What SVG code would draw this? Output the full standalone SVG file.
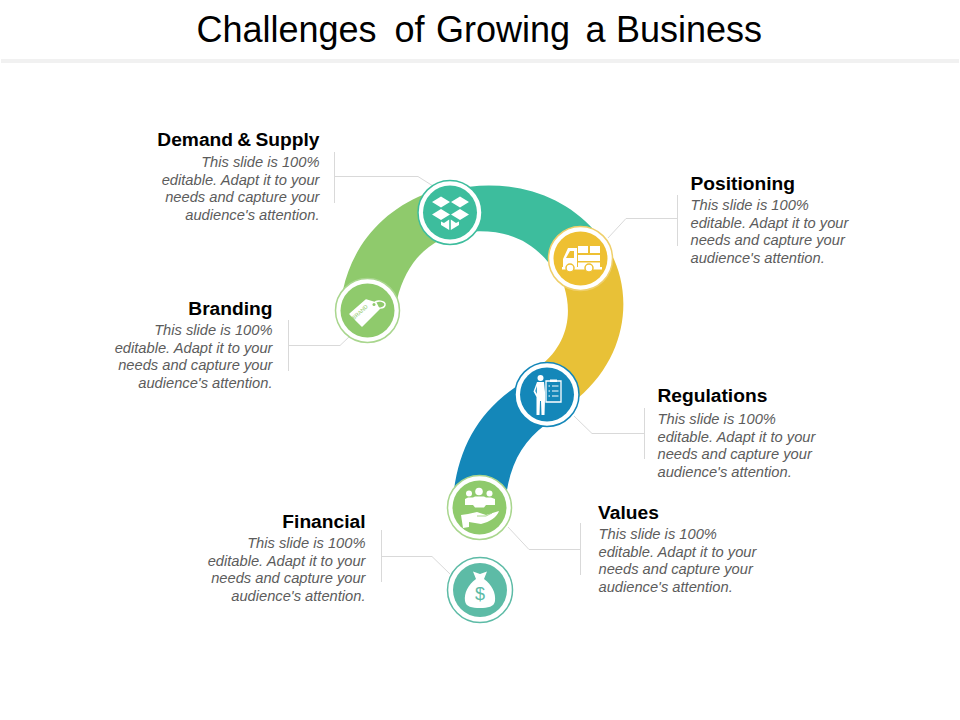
<svg xmlns="http://www.w3.org/2000/svg" width="960" height="720" viewBox="0 0 960 720">
<style>
text{font-family:"Liberation Sans",Arial,sans-serif}
.title{font-size:36px;fill:#000}
.h{font-size:19.2px;font-weight:bold;fill:#000}
.b{font-size:14.7px;font-style:italic;fill:#5c5c5c}
.r{text-anchor:end}
.c{fill:none;stroke:#d9d9d9;stroke-width:1}
.w{fill:#fff}
.ring{fill:#fff;stroke-width:1.5}
</style>
<rect width="960" height="720" fill="#fff"/>
<rect x="1" y="59" width="958" height="4" fill="#f1f1f1"/>
<text class="title" y="42"><tspan x="196.500">Challenges</tspan> <tspan x="394.500">of</tspan> <tspan x="436">Growing</tspan> <tspan x="585.500">a</tspan> <tspan x="616">Business</tspan></text>
<g id="connectors">
<path class="c" d="M334.500 152V203M334.500 176.500H418L433 186"/>
<path class="c" d="M677.500 195V246M677.500 218.500H626L608 238"/>
<path class="c" d="M288.500 320V371M288.500 345.500H340L350 336"/>
<path class="c" d="M644.500 408V459M644.500 433.500H592L574 416"/>
<path class="c" d="M580.500 523V575M580.500 549.500H529L508 527"/>
<path class="c" d="M381.500 530V582M381.500 556.500H432L450 574"/>
</g>
<g id="band">
<path fill="#8fca6c" d="M343 290C352 248 380 212 425 194L440 240C420 250 404 270 397 300Z"/>
<path fill="#3dbd9d" d="M450 190C505 177 560 192 594 230L548 262C530 240 505 228 465 232Z"/>
<path fill="#e8c137" d="M606 245C633 285 632 352 578 398L540 366C573 340 576 300 553 262Z"/>
<path fill="#1487b9" d="M520 384C480 410 460 445 454 490L507 490C512 460 525 440 545 425Z"/>
</g>
<g id="node-demand">
<circle class="ring" cx="450" cy="212.500" r="32" stroke="#3dbd9d"/>
<circle cx="450" cy="212.500" r="27" fill="#3dbd9d"/>
<path class="w" d="M450 202L441 196.500L432 202L441 207.500ZM469 202L460 196.500L451 202L460 207.500ZM450 214.500L441 209L432 214.500L441 220ZM469 214.500L460 209L451 214.500L460 220ZM449.200 219.500V230L441 225V221.500L444 223ZM450.800 219.500V230L459 225V221.500L456 223Z"/>
<text class="h r" x="319.500" y="146" word-spacing="-1">Demand &amp; Supply</text>
<text class="b r" x="319.500" y="167">This slide is 100%</text>
<text class="b r" x="319.500" y="185">editable. Adapt it to your</text>
<text class="b r" x="319.500" y="202">needs and capture your</text>
<text class="b r" x="319.500" y="220">audience's attention.</text>
</g>
<g id="node-positioning">
<circle class="ring" cx="580.500" cy="258.500" r="32" stroke="#efcf6a"/>
<circle cx="580.500" cy="258.500" r="27" fill="#eec032"/>
<path class="w" d="M578 246H588V253H578ZM590 246H600V253H590ZM578 255H600V261H578ZM578 262.500H600V268H578Z"/>
<path class="w" d="M577 248V268H563V259L568 248ZM570 251L566 258H574V251Z" fill-rule="evenodd"/>
<rect class="w" x="562" y="267" width="40" height="2.500"/>
<circle cx="570" cy="268" r="4" fill="#fff" stroke="#eec032" stroke-width="1.500"/>
<circle cx="589" cy="268" r="4" fill="#fff" stroke="#eec032" stroke-width="1.500"/>
<text class="h" x="690.500" y="190">Positioning</text>
<text class="b" x="690.500" y="210">This slide is 100%</text>
<text class="b" x="690.500" y="228">editable. Adapt it to your</text>
<text class="b" x="690.500" y="245">needs and capture your</text>
<text class="b" x="690.500" y="263">audience's attention.</text>
</g>
<g id="node-branding">
<circle class="ring" cx="367.500" cy="310.500" r="32" stroke="#a9d68e"/>
<circle cx="367.500" cy="310.500" r="27" fill="#8fca6c"/>
<path class="w" stroke="#fff" stroke-width="1.500" stroke-linejoin="round" d="M350 314L366 300L376 303L379 309L362 326Z"/>
<path fill="none" stroke="#fff" stroke-width="1.500" d="M374 304C376 299 386 301 385 305C384 309 377 309 375 306"/>
<circle cx="374" cy="304.500" r="1.500" fill="#8fca6c"/>
<text x="0" y="0" transform="translate(354 320) rotate(-42)" font-size="5.500" fill="#8fca6c">BRAND</text>
<text class="h r" x="272.500" y="314.500">Branding</text>
<text class="b r" x="272.500" y="335">This slide is 100%</text>
<text class="b r" x="272.500" y="353">editable. Adapt it to your</text>
<text class="b r" x="272.500" y="370">needs and capture your</text>
<text class="b r" x="272.500" y="388">audience's attention.</text>
</g>
<g id="node-regulations">
<circle class="ring" cx="547" cy="394.500" r="32" stroke="#1487b9"/>
<circle cx="547" cy="394.500" r="27" fill="#1487b9"/>
<circle class="w" cx="540.500" cy="378" r="3"/>
<path class="w" d="M537 382H544L545 392V400L544.500 415H541.500L541 401H540L539.500 415H536.500L536.500 397L533.500 391.500ZM536.800 386L535.300 391L536.800 394Z" fill-rule="evenodd"/>
<path fill="#1487b9" stroke="#fff" stroke-width="1.300" d="M546 381H561V402H546Z"/>
<path fill="none" stroke="#fff" stroke-width="1.200" d="M548.500 386H550M552 386H558.500M548.500 391H550M552 391H558.500M548.500 396H550M552 396H558.500"/>
<path class="w" d="M550 379.500H557V382H550Z"/>
<text class="h" x="657.500" y="402">Regulations</text>
<text class="b" x="657.500" y="424">This slide is 100%</text>
<text class="b" x="657.500" y="442">editable. Adapt it to your</text>
<text class="b" x="657.500" y="459">needs and capture your</text>
<text class="b" x="657.500" y="477">audience's attention.</text>
</g>
<g id="node-values">
<circle class="ring" cx="479.500" cy="507.500" r="32" stroke="#a9d68e"/>
<circle cx="479.500" cy="507.500" r="27" fill="#8fca6c"/>
<circle class="w" cx="469" cy="493.500" r="3"/><circle class="w" cx="479" cy="491.500" r="3.800"/><circle class="w" cx="489.500" cy="493.500" r="3"/>
<path class="w" d="M465 505V499L468 497.500H473L475 496.500H484L486 497.500H491L495 499V505H486L484 507.500H475L473 505Z"/>
<path class="w" d="M461 515L468 514L477 512L486 515L499 511C497 517 490 522 481 524L469 522L469 527L463 528Z"/>
<path fill="none" stroke="#8fca6c" stroke-width="0.800" d="M477 516L486 516L492 513"/>
<text class="h" x="598" y="519">Values</text>
<text class="b" x="598.500" y="539">This slide is 100%</text>
<text class="b" x="598.500" y="557">editable. Adapt it to your</text>
<text class="b" x="598.500" y="574">needs and capture your</text>
<text class="b" x="598.500" y="592">audience's attention.</text>
</g>
<g id="node-financial">
<circle class="ring" cx="480" cy="590" r="32.500" stroke="#5dbba6"/>
<circle cx="480" cy="590" r="27" fill="#5dbba6"/>
<path class="w" d="M473 571.500L480 574L487 571.500L484 579C492 585 496 593 495 601C494 607 488 608 480 608C472 608 466 607 465 601C464 593 468 585 476 579Z"/>
<text x="480" y="599.500" font-size="18" fill="#5dbba6" text-anchor="middle">$</text>
<text class="h r" x="365.500" y="527.500">Financial</text>
<text class="b r" x="365.500" y="548">This slide is 100%</text>
<text class="b r" x="365.500" y="566">editable. Adapt it to your</text>
<text class="b r" x="365.500" y="583">needs and capture your</text>
<text class="b r" x="365.500" y="601">audience's attention.</text>
</g>
</svg>
